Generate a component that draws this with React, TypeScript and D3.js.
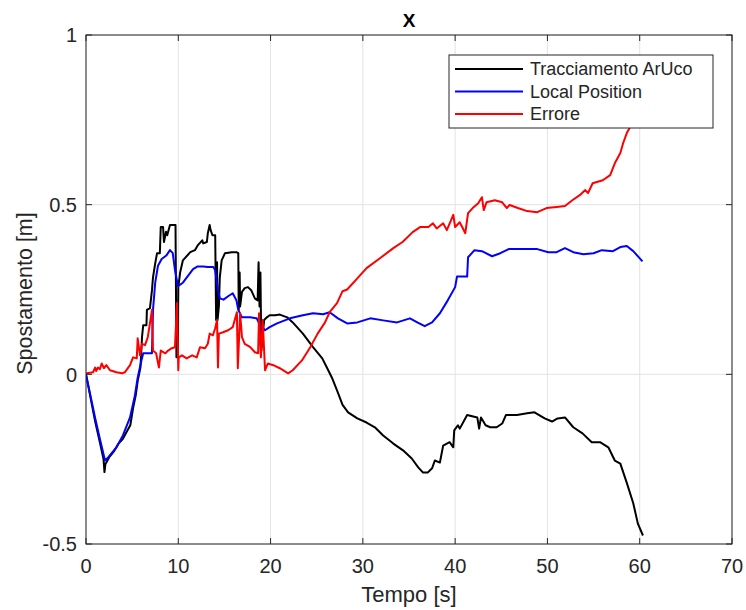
import React from 'react';
import * as d3 from 'd3';

// [time (s), displacement (m)]
const arucoTrack: [number, number][] = [
  [0, 0], [0.5, -0.07], [1.0, -0.14], [1.5, -0.2], [1.9, -0.25], [2.0, -0.288], [2.1, -0.265],
  [2.5, -0.245], [3.0, -0.228], [3.5, -0.205], [4.0, -0.19], [4.5, -0.165], [4.8, -0.15],
  [5.1, -0.1], [5.4, -0.06], [5.6, -0.02], [5.9, 0.02], [6.07, 0.11], [6.2, 0.145], [6.55, 0.145],
  [6.6, 0.19], [6.93, 0.195], [7.15, 0.248], [7.26, 0.286], [7.5, 0.327], [7.7, 0.357], [8.0, 0.357],
  [8.1, 0.434], [8.35, 0.434], [8.45, 0.39], [8.67, 0.42], [8.8, 0.41], [9.1, 0.44], [9.7, 0.44],
  [9.8, 0.05], [9.95, 0.05], [10.0, 0.257], [10.2, 0.3], [10.5, 0.336], [11.3, 0.36], [11.8, 0.366],
  [12.1, 0.38], [12.6, 0.395], [12.7, 0.386], [13.1, 0.39], [13.2, 0.416], [13.4, 0.44], [13.5, 0.425],
  [13.7, 0.41], [14.0, 0.41], [14.1, 0.16], [14.2, 0.33], [14.25, 0.16], [14.4, 0.2], [14.5, 0.286],
  [14.7, 0.336], [15.06, 0.357], [15.8, 0.36], [16.3, 0.36], [16.5, 0.357], [16.55, 0.19], [16.65, 0.3],
  [16.7, 0.2], [16.9, 0.243], [17.2, 0.254], [17.55, 0.257], [17.9, 0.248], [18.3, 0.224], [18.6, 0.218],
  [18.7, 0.33], [18.8, 0.2], [18.9, 0.3], [19.0, 0.07], [19.3, 0.16], [19.6, 0.168], [19.9, 0.174],
  [20.5, 0.174], [21.0, 0.176], [21.8, 0.168], [22.4, 0.153], [23.5, 0.12], [24.6, 0.08], [25.6, 0.047],
  [26.1, 0.02], [26.65, -0.01], [27.2, -0.047], [27.8, -0.09], [28.4, -0.112], [29.4, -0.13],
  [30.4, -0.142], [31.3, -0.156], [32.2, -0.18], [33.3, -0.204], [34.35, -0.224], [35.3, -0.248],
  [36.0, -0.274], [36.5, -0.289], [37.05, -0.289], [37.5, -0.277], [37.8, -0.254], [38.35, -0.26],
  [38.7, -0.21], [39.4, -0.2], [39.8, -0.215], [39.9, -0.165], [40.3, -0.15], [40.5, -0.16],
  [41.3, -0.12], [42.4, -0.127], [42.6, -0.16], [42.8, -0.127], [43.3, -0.15], [43.8, -0.156],
  [44.5, -0.156], [45.1, -0.145], [45.5, -0.12], [46.7, -0.12], [47.8, -0.115], [48.6, -0.112],
  [49.7, -0.13], [50.5, -0.139], [51.1, -0.13], [51.9, -0.127], [52.8, -0.156], [53.8, -0.174],
  [54.8, -0.2], [55.7, -0.2], [56.6, -0.215], [57.3, -0.254], [57.9, -0.263], [58.6, -0.32],
  [59.3, -0.38], [59.8, -0.44], [60.35, -0.475],
];

const localPosition: [number, number][] = [
  [0, 0], [0.5, -0.065], [1.0, -0.13], [1.5, -0.19], [2.06, -0.254], [2.4, -0.245], [3.3, -0.215],
  [4.0, -0.18], [4.77, -0.127], [5.3, -0.062], [5.6, -0.01], [6.0, 0.04], [6.2, 0.062], [7.15, 0.062],
  [7.26, 0.19], [7.5, 0.27], [7.8, 0.32], [8.2, 0.34], [8.7, 0.35], [9.1, 0.366], [9.4, 0.357],
  [9.64, 0.307], [9.97, 0.26], [10.5, 0.27], [11.05, 0.29], [11.6, 0.31], [12.1, 0.318], [12.7, 0.318],
  [13.2, 0.316], [13.8, 0.316], [14.0, 0.307], [14.3, 0.248], [14.5, 0.224], [14.9, 0.22], [15.4, 0.23],
  [15.9, 0.239], [16.3, 0.218], [16.5, 0.19], [16.9, 0.168], [17.8, 0.168], [18.5, 0.165],
  [18.85, 0.145], [19.4, 0.13], [19.9, 0.139], [20.7, 0.15], [22.1, 0.165], [23.5, 0.174],
  [24.6, 0.18], [25.7, 0.177], [26.4, 0.183], [27.3, 0.165], [28.3, 0.15], [29.4, 0.153],
  [30.8, 0.165], [32.2, 0.159], [33.7, 0.153], [35.1, 0.165], [35.9, 0.153], [36.7, 0.142],
  [37.5, 0.153], [38.35, 0.18], [39.2, 0.218], [40.0, 0.257], [40.2, 0.288], [41.3, 0.288],
  [41.4, 0.345], [42.1, 0.366], [42.9, 0.363], [44.0, 0.348], [44.9, 0.357], [45.8, 0.369],
  [47.0, 0.369], [48.9, 0.369], [50.1, 0.36], [51.0, 0.36], [51.9, 0.372], [52.8, 0.36],
  [53.9, 0.354], [55.0, 0.357], [55.9, 0.366], [57.1, 0.363], [57.9, 0.375], [58.6, 0.378],
  [59.3, 0.363], [60.3, 0.333],
];

const errore: [number, number][] = [
  [0, 0], [0.1, 0.003], [0.76, 0.006], [1.0, 0.02], [1.1, 0.01], [1.3, 0.02], [1.5, 0.015],
  [1.7, 0.032], [1.95, 0.018], [2.2, 0.027], [2.6, 0.012], [3.3, 0.006], [3.9, 0.003], [4.2, 0.006],
  [4.77, 0.027], [5.1, 0.05], [5.5, 0.047], [5.6, 0.106], [5.85, 0.056], [6.07, 0.09], [6.4, 0.086],
  [6.7, 0.11], [7.15, 0.19], [7.26, 0.07], [7.6, 0.062], [7.9, 0.02], [8.1, 0.07], [8.6, 0.062],
  [8.9, 0.07], [9.3, 0.077], [9.64, 0.08], [9.86, 0.21], [10.0, 0.012], [10.05, 0.05], [10.4, 0.056],
  [10.9, 0.047], [11.5, 0.056], [12.0, 0.05], [12.35, 0.08], [12.9, 0.077], [13.2, 0.09], [13.4, 0.12],
  [13.75, 0.115], [14.0, 0.136], [14.2, 0.16], [14.3, 0.02], [14.4, 0.12], [14.85, 0.124],
  [15.4, 0.13], [15.9, 0.139], [16.35, 0.183], [16.45, 0.018], [16.7, 0.18], [16.9, 0.11],
  [17.2, 0.09], [17.8, 0.08], [18.3, 0.065], [18.65, 0.062], [18.75, 0.18], [18.95, 0.05],
  [19.15, 0.16], [19.4, 0.012], [19.7, 0.032], [20.3, 0.027], [21.0, 0.018], [21.9, 0.003],
  [22.4, 0.012], [23.4, 0.041], [24.3, 0.08], [25.1, 0.12], [25.9, 0.153], [26.4, 0.183],
  [27.2, 0.21], [27.8, 0.245], [28.3, 0.25], [29.4, 0.283], [30.4, 0.313], [31.85, 0.342],
  [33.3, 0.372], [34.3, 0.39], [35.4, 0.419], [36.2, 0.434], [37.1, 0.434], [37.6, 0.445],
  [38.0, 0.43], [38.7, 0.445], [39.1, 0.425], [39.8, 0.47], [40.0, 0.434], [40.5, 0.448],
  [41.1, 0.416], [41.4, 0.475], [41.9, 0.49], [42.5, 0.504], [42.9, 0.522], [43.1, 0.484],
  [43.4, 0.507], [44.3, 0.513], [45.1, 0.507], [45.6, 0.49], [45.9, 0.499], [46.8, 0.49],
  [47.8, 0.481], [48.9, 0.478], [49.9, 0.49], [51.0, 0.493], [51.9, 0.496], [52.7, 0.513],
  [53.5, 0.528], [54.1, 0.543], [54.4, 0.534], [54.9, 0.563], [56.0, 0.572], [56.8, 0.587],
  [57.3, 0.622], [57.9, 0.652], [58.2, 0.681], [58.6, 0.711], [58.9, 0.726], [59.5, 0.78],
  [60.35, 0.85],
];

const series = [
  { name: 'Tracciamento ArUco', color: '#000000', data: arucoTrack },
  { name: 'Local Position', color: '#0000ff', data: localPosition },
  { name: 'Errore', color: '#ff0000', data: errore },
];

const xTicks = [0, 10, 20, 30, 40, 50, 60, 70];
const yTicks = [-0.5, 0, 0.5, 1];
const yTickLabels = ['-0.5', '0', '0.5', '1'];

const W = 746;
const H = 610;
const left = 86;
const right = 732;
const top = 35;
const bottom = 544;
const font = '"Liberation Sans", Arial, Helvetica, sans-serif';
const axisColor = '#262626';

export default function App() {
  const x = d3.scaleLinear().domain([0, 70]).range([left, right]);
  const y = d3.scaleLinear().domain([-0.5, 1]).range([bottom, top]);
  const line = d3
    .line<[number, number]>()
    .x(d => x(d[0]))
    .y(d => y(d[1]));

  const legX = 449;
  const legY = 55;
  const legW = 264;
  const legH = 73;

  return (
    <svg
      width={W}
      height={H}
      style={{ position: 'absolute', left: 0, top: 0, background: '#fff' }}
      fontFamily={font}
    >
      <rect x={0} y={0} width={W} height={H} fill="#fff" />
      <defs>
        <clipPath id="plot">
          <rect x={left} y={top} width={right - left} height={bottom - top} />
        </clipPath>
      </defs>
      {/* grid */}
      {xTicks.map(t => (
        <line key={'gx' + t} x1={x(t)} x2={x(t)} y1={top} y2={bottom} stroke="#e3e3e3" strokeWidth={1} />
      ))}
      {yTicks.map(t => (
        <line key={'gy' + t} x1={left} x2={right} y1={y(t)} y2={y(t)} stroke="#e3e3e3" strokeWidth={1} />
      ))}
      {/* series */}
      <g clipPath="url(#plot)">
        {series.map(s => (
          <path key={s.name} d={line(s.data) || ''} fill="none" stroke={s.color} strokeWidth={2} strokeLinejoin="round" />
        ))}
      </g>
      {/* box and ticks */}
      <rect x={left} y={top} width={right - left} height={bottom - top} fill="none" stroke={axisColor} strokeWidth={1} />
      {xTicks.map(t => (
        <g key={'tx' + t}>
          <line x1={x(t)} x2={x(t)} y1={bottom} y2={bottom - 6} stroke={axisColor} />
          <line x1={x(t)} x2={x(t)} y1={top} y2={top + 6} stroke={axisColor} />
          <text x={x(t)} y={573} textAnchor="middle" fontSize={20} fill={axisColor}>
            {t}
          </text>
        </g>
      ))}
      {yTicks.map((t, i) => (
        <g key={'ty' + t}>
          <line x1={left} x2={left + 6} y1={y(t)} y2={y(t)} stroke={axisColor} />
          <line x1={right} x2={right - 6} y1={y(t)} y2={y(t)} stroke={axisColor} />
          <text x={77} y={y(t)} dy="0.36em" textAnchor="end" fontSize={20} fill={axisColor}>
            {yTickLabels[i]}
          </text>
        </g>
      ))}
      {/* title and labels */}
      <text x={(left + right) / 2} y={27} textAnchor="middle" fontSize={19} fontWeight="bold" fill="#000">
        X
      </text>
      <text x={(left + right) / 2} y={602} textAnchor="middle" fontSize={22} fill={axisColor}>
        Tempo [s]
      </text>
      <text
        transform={`translate(32,${(top + bottom) / 2 + 4}) rotate(-90)`}
        textAnchor="middle"
        fontSize={21.5}
        fill={axisColor}
      >
        Spostamento [m]
      </text>
      {/* legend */}
      <rect x={legX} y={legY} width={legW} height={legH} fill="#fff" stroke={axisColor} strokeWidth={1} />
      {series.map((s, i) => {
        const cy = legY + 14 + i * 22.5;
        return (
          <g key={'leg' + s.name}>
            <line x1={legX + 6} x2={legX + 74} y1={cy} y2={cy} stroke={s.color} strokeWidth={2} />
            <text x={legX + 81} y={cy} dy="0.36em" fontSize={18} fill={axisColor}>
              {s.name}
            </text>
          </g>
        );
      })}
    </svg>
  );
}
